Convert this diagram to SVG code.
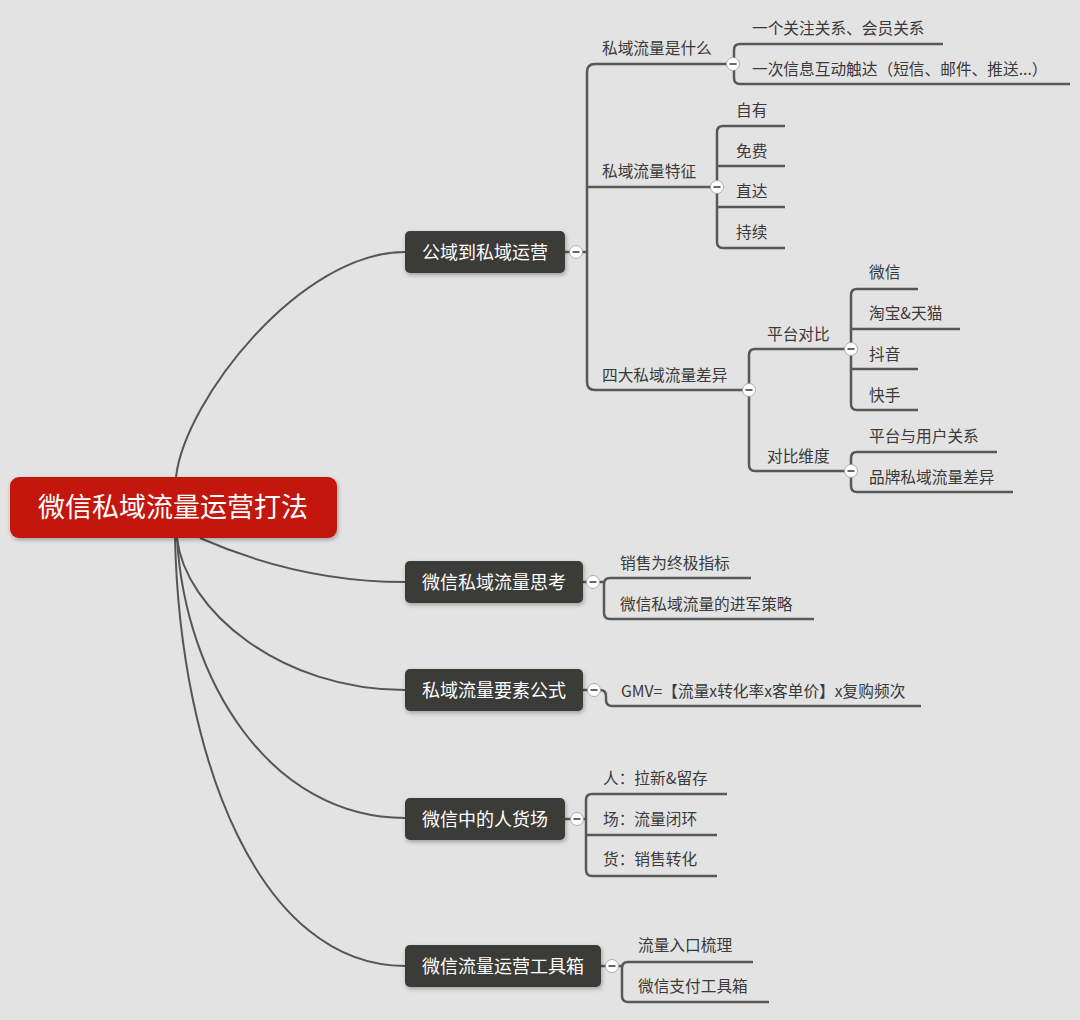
<svg xmlns="http://www.w3.org/2000/svg" width="1080" height="1020" viewBox="0 0 1080 1020">
<defs>
<filter id="sh" x="-10%" y="-20%" width="120%" height="150%">
<feDropShadow dx="1" dy="2" stdDeviation="2" flood-color="#000" flood-opacity="0.3"/>
</filter>
<g id="minus">
<circle r="6.5" fill="#ffffff" stroke="#9a9a9a" stroke-width="0.8"/>
<line x1="-3.5" y1="0" x2="3.5" y2="0" stroke="#555" stroke-width="1.8"/>
</g>
</defs>
<style>
.curve{fill:none;stroke:#555;stroke-width:2}
.br{fill:none;stroke:#585858;stroke-width:2.5;stroke-linecap:butt}
.t{font-family:"Noto Sans CJK SC","Noto Sans",sans-serif;font-size:15.7px;fill:#3a3a3a}
.mt{font-family:"Noto Sans CJK SC","Noto Sans",sans-serif;font-size:18px;fill:#ffffff;text-anchor:middle}
.rt{font-family:"Noto Sans CJK SC","Noto Sans",sans-serif;font-size:27px;fill:#ffffff;text-anchor:middle}
.node{fill:#3a3a37;filter:url(#sh)}
</style>
<rect width="1080" height="1020" fill="#e3e3e3"/>

<g id="connectors">
<path class="curve" d="M176,477 C185,400 300,252 405,252"/>
<path class="curve" d="M200,538 C250,560 320,582 405,582"/>
<path class="curve" d="M177,538 C185,610 280,690 405,690"/>
<path class="curve" d="M177,538 C185,680 270,818 405,818"/>
<path class="curve" d="M175,538 C180,760 260,966 405,966"/>

<!-- node 1 -->
<path class="br" d="M565,252 L587,252"/>
<path class="br" d="M733,64 L595,64 Q587,64 587,72 L587,382 Q587,390 595,390 L749,390"/>
<path class="br" d="M587,187 L717,187"/>
<path class="br" d="M943,44 L740,44 Q734,44 734,50 L734,78 Q734,84 740,84 L1070,84"/>
<path class="br" d="M785,126 L723,126 Q717,126 717,132 L717,242 Q717,248 723,248 L785,248"/>
<path class="br" d="M717,166 L785,166 M717,207 L785,207"/>
<path class="br" d="M851,349 L755,349 Q749,349 749,355 L749,465 Q749,471 755,471 L851,471"/>
<path class="br" d="M918,289 L857,289 Q851,289 851,295 L851,404 Q851,410 857,410 L918,410"/>
<path class="br" d="M851,329 L960,329 M851,369 L918,369"/>
<path class="br" d="M997,452 L857,452 Q851,452 851,458 L851,486 Q851,492 857,492 L1013,492"/>

<!-- node 2 -->
<path class="br" d="M583,582 L604,582"/>
<path class="br" d="M751,578 L610,578 Q604,578 604,584 L604,613 Q604,619 610,619 L814,619"/>

<!-- node 3 -->
<path class="br" d="M583,690 L600,690 Q606,690 606,696 L606,700 Q606,706 612,706 L921,706"/>

<!-- node 4 -->
<path class="br" d="M565,819 L586,819"/>
<path class="br" d="M727,794 L592,794 Q586,794 586,800 L586,870 Q586,876 592,876 L717,876"/>
<path class="br" d="M586,835 L717,835"/>

<!-- node 5 -->
<path class="br" d="M601,966 L622,966"/>
<path class="br" d="M753,962 L628,962 Q622,962 622,968 L622,996 Q622,1002 628,1002 L769,1002"/>
</g>

<g id="root">
<rect x="10" y="477" width="327" height="61" rx="9" fill="#c3170a" filter="url(#sh)"/>
<text class="rt" x="173" y="517">微信私域流量运营打法</text>
</g>

<g id="n1">
<rect class="node" x="405" y="231" width="160" height="42" rx="5"/>
<text class="mt" x="485" y="258.5">公域到私域运营</text>
<use href="#minus" x="576" y="252"/>
</g>
<g id="n1-1">
<text class="t" x="602" y="54">私域流量是什么</text>
<use href="#minus" x="733" y="64"/>
</g>
<g id="n1-1-1"><text class="t" x="752" y="34">一个关注关系、会员关系</text></g>
<g id="n1-1-2"><text class="t" x="752" y="75">一次信息互动触达（短信、邮件、推送...）</text></g>
<g id="n1-2">
<text class="t" x="602" y="177">私域流量特征</text>
<use href="#minus" x="717" y="187"/>
</g>
<g id="n1-2-1"><text class="t" x="736" y="116">自有</text></g>
<g id="n1-2-2"><text class="t" x="736" y="157">免费</text></g>
<g id="n1-2-3"><text class="t" x="736" y="197">直达</text></g>
<g id="n1-2-4"><text class="t" x="736" y="238">持续</text></g>
<g id="n1-3">
<text class="t" x="602" y="381">四大私域流量差异</text>
<use href="#minus" x="749" y="390"/>
</g>
<g id="n1-3-1">
<text class="t" x="767" y="340">平台对比</text>
<use href="#minus" x="851" y="349"/>
</g>
<g id="n1-3-1-1"><text class="t" x="869" y="278">微信</text></g>
<g id="n1-3-1-2"><text class="t" x="869" y="319">淘宝&amp;天猫</text></g>
<g id="n1-3-1-3"><text class="t" x="869" y="360">抖音</text></g>
<g id="n1-3-1-4"><text class="t" x="869" y="401">快手</text></g>
<g id="n1-3-2">
<text class="t" x="767" y="462">对比维度</text>
<use href="#minus" x="851" y="471"/>
</g>
<g id="n1-3-2-1"><text class="t" x="869" y="442">平台与用户关系</text></g>
<g id="n1-3-2-2"><text class="t" x="869" y="483">品牌私域流量差异</text></g>

<g id="n2">
<rect class="node" x="405" y="561" width="178" height="42" rx="5"/>
<text class="mt" x="494" y="588.5">微信私域流量思考</text>
<use href="#minus" x="593" y="582"/>
</g>
<g id="n2-1"><text class="t" x="620" y="569">销售为终极指标</text></g>
<g id="n2-2"><text class="t" x="620" y="610">微信私域流量的进军策略</text></g>

<g id="n3">
<rect class="node" x="405" y="669" width="178" height="42" rx="5"/>
<text class="mt" x="494" y="696.5">私域流量要素公式</text>
<use href="#minus" x="594" y="690"/>
</g>
<g id="n3-1"><text class="t" x="621" y="697">GMV=【流量x转化率x客单价】x复购频次</text></g>

<g id="n4">
<rect class="node" x="405" y="798" width="160" height="42" rx="5"/>
<text class="mt" x="485" y="825.5">微信中的人货场</text>
<use href="#minus" x="577" y="819"/>
</g>
<g id="n4-1"><text class="t" x="603" y="784">人：拉新&amp;留存</text></g>
<g id="n4-2"><text class="t" x="603" y="825">场：流量闭环</text></g>
<g id="n4-3"><text class="t" x="603" y="865">货：销售转化</text></g>

<g id="n5">
<rect class="node" x="405" y="945" width="196" height="42" rx="5"/>
<text class="mt" x="503" y="972.5">微信流量运营工具箱</text>
<use href="#minus" x="612" y="966"/>
</g>
<g id="n5-1"><text class="t" x="638" y="951">流量入口梳理</text></g>
<g id="n5-2"><text class="t" x="638" y="992">微信支付工具箱</text></g>
</svg>
